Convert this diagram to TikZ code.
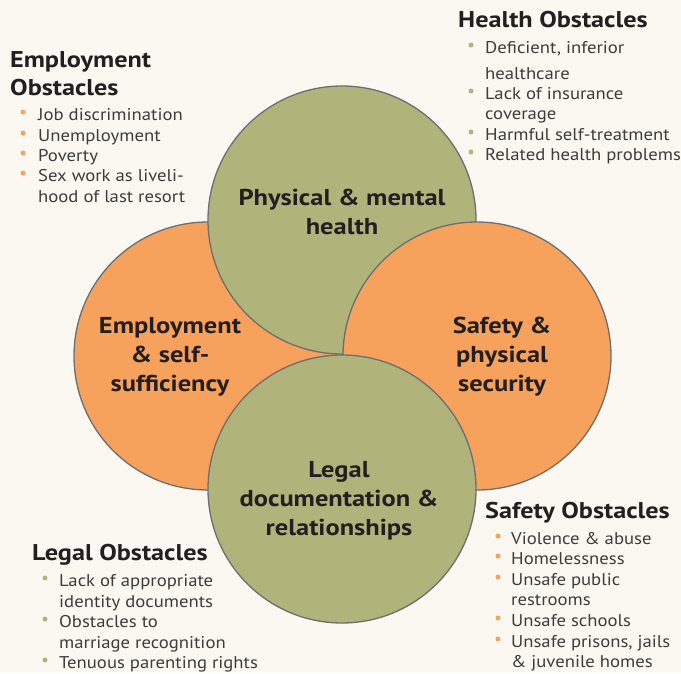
\documentclass[tikz,border=0pt]{standalone}
\usepackage{fontspec}
\setmainfont{PT Sans}[FakeStretch=1.1, BoldFeatures={FakeStretch=1.15}]
\definecolor{bgcol}{HTML}{FBF8F1}
\definecolor{grn}{HTML}{B0B47A}
\definecolor{org}{HTML}{F7A25C}
\definecolor{edge}{HTML}{6D6E71}
\definecolor{head}{HTML}{231F20}
\definecolor{item}{HTML}{3C3C3C}
\tikzset{
  circ/.style={circle, draw=edge, line width=1.3pt, minimum size=268pt, inner sep=0pt},
  clabel/.style={font=\fontsize{23}{29}\selectfont\bfseries, text=head, align=center, inner sep=0pt},
  hd/.style={font=\fontsize{22.8}{28}\selectfont\bfseries, text=head, anchor=base west, inner sep=0pt},
  it/.style={font=\fontsize{17}{20}\selectfont, text=item, anchor=base west, inner sep=0pt},
  bulo/.style={circle, fill=org, inner sep=0pt, minimum size=5pt},
  bulg/.style={circle, fill=grn, inner sep=0pt, minimum size=5pt}
}
\begin{document}
\begin{tikzpicture}[x=1pt,y=-1pt]
\fill[bgcol] (0,0) rectangle (681,673);
\useasboundingbox (0,0) rectangle (681,673);
% circles
\node[circ, fill=org] (left) at (208,356) {};
\node[circ, fill=grn] (top) at (342,220) {};
\node[circ, fill=org] (right) at (477,356) {};
\node[circ, fill=grn] (bottom) at (342,489) {};
% circle labels
\node[clabel] (ltop) at (342,212) {Physical \& mental\\health};
\node[clabel] (lleft) at (170,357) {Employment\\\& self-\\sufficiency};
\node[clabel] (lright) at (502,357) {Safety \&\\physical\\security};
\node[clabel] (lbottom) at (339,501) {Legal\\documentation \&\\relationships};
% Employment obstacles
\node[hd] (eh1) at (10,67) {Employment};
\node[hd] (eh2) at (10,95) {Obstacles};
\node[bulo] (eb1) at (23,112) {};
\node[it] (ei1) at (38,120) {Job discrimination};
\node[bulo] (eb2) at (23,133) {};
\node[it] (ei2) at (38,141) {Unemployment};
\node[bulo] (eb3) at (23,153) {};
\node[it] (ei3) at (38,161) {Poverty};
\node[bulo] (eb4) at (23,173) {};
\node[it] (ei4) at (38,181) {Sex work as liveli-};
\node[it] (ei5) at (38,202) {hood of last resort};
% Health obstacles
\node[hd] (hh) at (458,27) {Health Obstacles};
\node[bulg] (hb1) at (471,45) {};
\node[it] (hi1) at (485,53) {Deficient, inferior};
\node[it] (hi2) at (485,79) {healthcare};
\node[bulg] (hb2) at (471,91) {};
\node[it] (hi3) at (485,99) {Lack of insurance};
\node[it] (hi4) at (485,119) {coverage};
\node[bulg] (hb3) at (471,132) {};
\node[it] (hi5) at (485,140) {Harmful self-treatment};
\node[bulg] (hb4) at (471,152) {};
\node[it] (hi6) at (485,160) {Related health problems};
% Legal obstacles
\node[hd] (lh) at (32,560) {Legal Obstacles};
\node[bulg] (lb1) at (45,578) {};
\node[it] (li1) at (59,586) {Lack of appropriate};
\node[it] (li2) at (59,607) {identity documents};
\node[bulg] (lb2) at (45,619) {};
\node[it] (li3) at (59,627) {Obstacles to};
\node[it] (li4) at (59,648) {marriage recognition};
\node[bulg] (lb3) at (45,660) {};
\node[it] (li5) at (59,668) {Tenuous parenting rights};
% Safety obstacles
\node[hd] (sh) at (485,518) {Safety Obstacles};
\node[bulo] (sb1) at (498,536) {};
\node[it] (si1) at (511,544) {Violence \& abuse};
\node[bulo] (sb2) at (498,556) {};
\node[it] (si2) at (511,564) {Homelessness};
\node[bulo] (sb3) at (498,577) {};
\node[it] (si3) at (511,585) {Unsafe public};
\node[it] (si4) at (511,605) {restrooms};
\node[bulo] (sb4) at (498,618) {};
\node[it] (si5) at (511,626) {Unsafe schools};
\node[bulo] (sb5) at (498,639) {};
\node[it] (si6) at (511,647) {Unsafe prisons, jails};
\node[it] (si7) at (511,667) {\& juvenile homes};
\end{tikzpicture}
\end{document}
